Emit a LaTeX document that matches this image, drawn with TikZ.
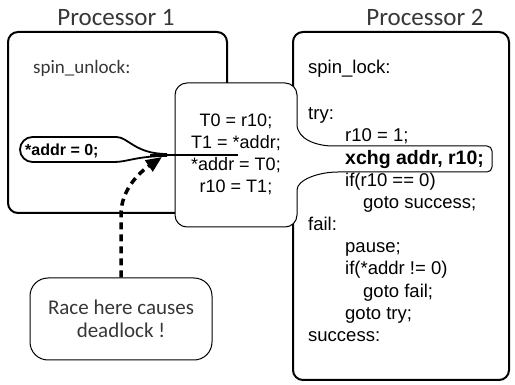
\documentclass[tikz,border=0pt]{standalone}
\usepackage{fontspec}
\setmainfont{Liberation Sans}
\newfontfamily\calfont{Carlito}
\usetikzlibrary{arrows.meta}
\definecolor{labelgray}{RGB}{55,55,55}

\tikzset{
	title/.style={anchor=base, inner sep=0pt, text=labelgray, font=\calfont\fontsize{25}{28}\selectfont},
	procbox/.style={draw, line width=2pt, rounded corners=10pt},
	notebox/.style={draw, line width=1pt, rounded corners=18pt, align=center, text=labelgray, font=\calfont\fontsize{21}{23}\selectfont},
	swapbox/.style={draw, fill=white, line width=1pt},
	codeline/.style={anchor=base west, inner sep=0pt, font=\fontsize{18.5}{22}\selectfont},
	pill/.style={draw, line width=1.8pt, rounded corners=12.5pt},
	racearrow/.style={line width=3.5pt, dash pattern=on 7pt off 5pt, -{Triangle[length=16pt,width=13pt]}}
}

\begin{document}
\begin{tikzpicture}[x=1pt,y=-1pt]
	\useasboundingbox (0,0) rectangle (515,385);
	\node[title] (t1) at (116,26) {Processor 1};
	\node[title] (t2) at (425,26) {Processor 2};
	\node[procbox, minimum width=219pt, minimum height=181pt] (p1) at (117.5,122.5) {};
	\node[procbox, minimum width=216pt, minimum height=348pt] (p2) at (401,206) {};
	\node[notebox, minimum width=182pt, minimum height=82pt] (race) at (121,319) {Race here causes\\deadlock !};
	% window between the two processors
	\draw[swapbox, rounded corners=12pt] (297,112) .. controls (297,140) and (318,146) .. (345,146)
		{[rounded corners=5pt] -- (492,146) -- (492,172)} -- (350,172)
		.. controls (318,172) and (297,180) .. (297,202)
		-- (297,227) -- (175,227) -- (175,83) -- (297,83) -- cycle;
	\node[align=center, inner sep=0pt, font=\fontsize{18}{22}\selectfont] (swap) at (236,154.5)
		{T0 = r10;\\T1 = *addr;\\*addr = T0;\\r10 = T1;};
	% processor 1
	\node[codeline, text=labelgray, font=\calfont\fontsize{19}{22}\selectfont] (unlock) at (33,74) {spin\_unlock:};
	\draw[pill] (167,154) .. controls (135,154) and (128,137) .. (104,137) -- (20,137) -- (20,162)
		-- (102,162) .. controls (127,162) and (137,156) .. (167,156);
	\node[codeline, font=\bfseries\fontsize{16}{18}\selectfont] (store) at (25,156) {*addr = 0;};
	\coordinate (pillend) at (150,155);
	\coordinate (swapend) at (238,155);
	\draw[line width=2.5pt] (pillend) -- (swapend);
	% processor 2
	\node[codeline] (lock) at (308,73.5) {spin\_lock:};
	\node[codeline] (try) at (308,119.5) {try:};
	\node[codeline] (l1) at (345,141.7) {r10 = 1;};
	\node[codeline, font=\bfseries\fontsize{19.5}{22}\selectfont] (xchg) at (345,164.2) {xchg addr, r10;};
	\node[codeline] (l3) at (345,186.1) {if(r10 == 0)};
	\node[codeline] (l4) at (363,208.3) {goto success;};
	\node[codeline] (fail) at (308,230.5) {fail:};
	\node[codeline] (l5) at (345,252.7) {pause;};
	\node[codeline] (l6) at (345,274.9) {if(*addr != 0)};
	\node[codeline] (l7) at (363,297.1) {goto fail;};
	\node[codeline] (l8) at (345,319.3) {goto try;};
	\node[codeline] (done) at (308,341.5) {success:};
	% the race
	\coordinate (hit) at (162,157);
	\draw[racearrow] (race.north) -- ++(0,-63) .. controls +(0,-25) and (140,172) .. (hit);
\end{tikzpicture}
\end{document}
